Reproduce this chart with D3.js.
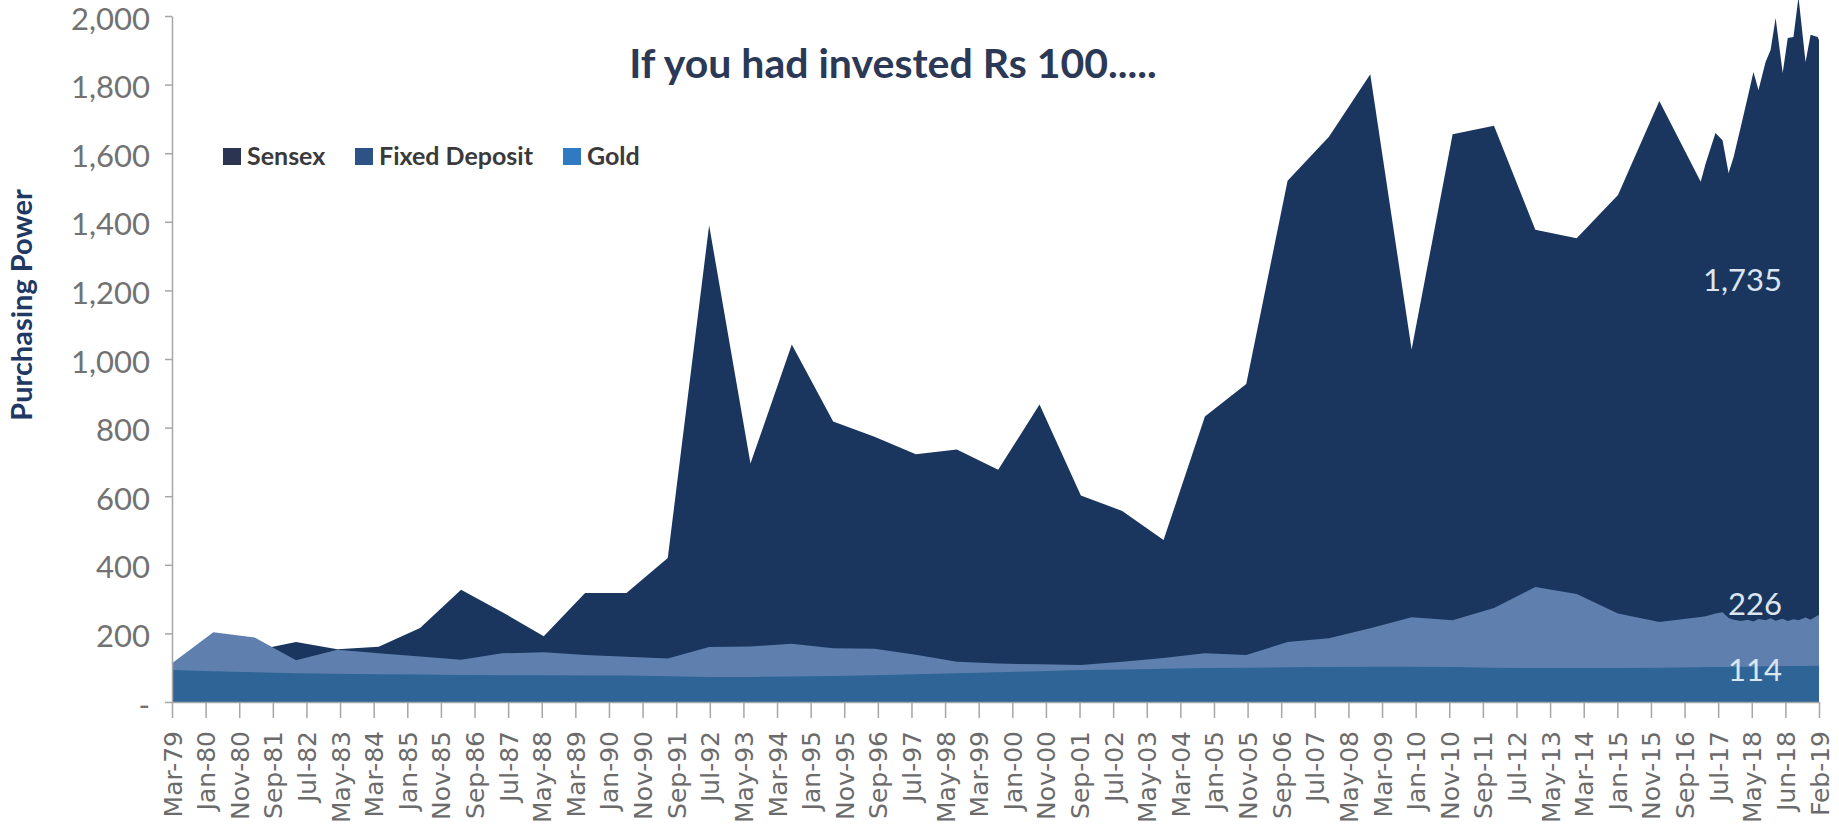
<!DOCTYPE html>
<html>
<head>
    <meta charset="UTF-8">
    <title>If you had invested Rs 100</title>
    <script src="https://cdnjs.cloudflare.com/ajax/libs/d3/7.8.5/d3.min.js"></script>
    <style>
        body { margin: 0; background: #ffffff; }
        svg { display: block; }
        .y-axis text { font-family: Lato, sans-serif; font-size: 31px; fill: #727272; }
        .x-axis text { font-family: "DejaVu Sans", sans-serif; font-size: 25px; fill: #6b6b6b; }
        .axis path, .axis line { stroke: #a6a6a6; stroke-width: 1.5; }
        .legend text { font-family: Lato, sans-serif; font-weight: bold; font-size: 25px; fill: #3a3a3a; }
        .end-label { font-family: Lato, sans-serif; font-size: 31px; fill: #dce6f1; text-anchor: end; }
    </style>
</head>
<body>
<svg id="chart" width="1839" height="826"></svg>
<script>
    // tick labels on the category axis
    const categories = ["Mar-79", "Jan-80", "Nov-80", "Sep-81", "Jul-82", "May-83", "Mar-84", "Jan-85", "Nov-85", "Sep-86",
        "Jul-87", "May-88", "Mar-89", "Jan-90", "Nov-90", "Sep-91", "Jul-92", "May-93", "Mar-94", "Jan-95",
        "Nov-95", "Sep-96", "Jul-97", "May-98", "Mar-99", "Jan-00", "Nov-00", "Sep-01", "Jul-02", "May-03",
        "Mar-04", "Jan-05", "Nov-05", "Sep-06", "Jul-07", "May-08", "Mar-09", "Jan-10", "Nov-10", "Sep-11",
        "Jul-12", "May-13", "Mar-14", "Jan-15", "Nov-15", "Sep-16", "Jul-17", "May-18", "Jun-18", "Feb-19"];

    // where each observation sits along that axis (in category units)
    const period = [0, 1.23, 2.46, 3.69, 4.92, 6.15, 7.38, 8.6, 9.83, 11.06,
        12.29, 13.52, 14.75, 15.98, 17.21, 18.44, 19.67, 20.9, 22.13, 23.35,
        24.58, 25.81, 27.04, 28.27, 29.5, 30.73, 31.96, 33.19, 34.42, 35.65,
        36.88, 38.1, 39.33, 40.56, 41.79, 43.02, 44.25, 45.48,
        45.63, 45.92, 46.13, 46.31, 46.46, 46.67, 46.88, 47.05, 47.2, 47.41,
        47.56, 47.71, 47.92, 48.07, 48.24, 48.39, 48.6, 48.75, 48.96, 49];

    const sensex = [100, 125, 150, 175, 154, 161, 216, 327, 262, 192,
        318, 318, 420, 1390, 695, 1042, 818, 773, 722, 736,
        677, 867, 602, 557, 472, 832, 927, 1520, 1648, 1830,
        1028, 1655, 1680, 1377, 1352, 1478, 1752, 1517,
        1571, 1659, 1638, 1542, 1589, 1676, 1764, 1837, 1784, 1866,
        1901, 1994, 1834, 1936, 1939, 2055, 1866, 1945, 1939, 1930];

    const gold = [113, 203, 188, 122, 152, 142, 133, 123, 142, 145,
        137, 132, 127, 160, 162, 170, 157, 155, 138, 117,
        112, 110, 108, 117, 128, 142, 137, 175, 186, 215,
        247, 238, 274, 335, 315, 258, 233, 248,
        250, 258, 262, 245, 240, 236, 240, 235, 242, 238,
        244, 237, 243, 236, 241, 238, 246, 240, 252, 254];

    const fixedDeposit = [93, 90, 87, 84, 82, 81, 80, 79, 78, 78,
        77, 77, 75, 73, 73, 74, 76, 78, 81, 84,
        87, 90, 93, 95, 97, 99, 100, 101, 102, 103,
        103, 102, 100, 99, 99, 99, 100, 101,
        102, 102, 102, 102, 103, 103, 103, 103, 104, 104,
        104, 104, 105, 105, 105, 105, 105, 106, 106, 106];

    const yTicks = [0, 200, 400, 600, 800, 1000, 1200, 1400, 1600, 1800, 2000];
    const seriesNames = ["Sensex", "Fixed Deposit", "Gold"];
    const endLabels = ["1,735", "226", "114"];

    const svg = d3.select("#chart");
    svg.append("rect").attr("width", 1839).attr("height", 826).attr("fill", "#ffffff");

    const x = d3.scaleLinear().domain([0, categories.length - 1]).range([172, 1819]);
    const y = d3.scaleLinear().domain([0, 2000]).range([702, 16]);

    function drawArea(values, colour) {
        const area = d3.area()
            .x((d, i) => x(period[i]))
            .y0(y(0))
            .y1(d => y(d));
        svg.append("path")
            .datum(values)
            .attr("d", area)
            .attr("fill", colour);
    }

    // sensex at the back, fixed deposit in front
    drawArea(sensex, "#1a365e");
    drawArea(gold, "#5f80af");
    drawArea(fixedDeposit, "#2e6496");

    // y axis
    svg.append("g")
        .attr("class", "axis y-axis")
        .attr("transform", "translate(" + x(0) + ",0)")
        .call(d3.axisLeft(y)
            .tickValues(yTicks)
            .tickSize(7)
            .tickSizeOuter(0)
            .tickPadding(15)
            .tickFormat(v => v === 0 ? "-" : d3.format(",")(v)))
        .selectAll("text")
        .attr("dy", "0.42em");

    // x axis
    svg.append("g")
        .attr("class", "axis x-axis")
        .attr("transform", "translate(0," + y(0) + ")")
        .call(d3.axisBottom(x)
            .tickValues(d3.range(categories.length))
            .tickSize(16)
            .tickSizeOuter(0)
            .tickFormat(i => categories[i]))
        .selectAll("text")
        .attr("transform", "rotate(-90)")
        .attr("text-anchor", "end")
        .attr("x", -29)
        .attr("y", 0)
        .attr("dy", "0.36em");

    // axis title
    svg.append("text")
        .attr("transform", "translate(32,305) rotate(-90)")
        .attr("text-anchor", "middle")
        .style("font-family", "Lato, sans-serif")
        .style("font-weight", "bold")
        .style("font-size", "29px")
        .style("fill", "#1f3864")
        .text("Purchasing Power");

    // title
    svg.append("text")
        .attr("x", 893)
        .attr("y", 78)
        .attr("text-anchor", "middle")
        .style("font-family", "Lato, sans-serif")
        .style("font-weight", "bold")
        .style("font-size", "41px")
        .style("fill", "#2b3856")
        .text("If you had invested Rs 100.....");

    // legend
    const legendColours = ["#2b3551", "#2c5286", "#2f7ac0"];
    const legendX = [223, 355, 563];
    const legend = svg.append("g").attr("class", "legend");
    seriesNames.forEach((name, i) => {
        legend.append("rect")
            .attr("x", legendX[i]).attr("y", 148)
            .attr("width", 18).attr("height", 17)
            .attr("fill", legendColours[i]);
        legend.append("text")
            .attr("x", legendX[i] + 24).attr("y", 165)
            .text(name);
    });

    // values written inside the areas
    const labelAt = [1230, 285, 93];
    endLabels.forEach((t, i) => {
        svg.append("text")
            .attr("class", "end-label")
            .attr("x", 1782)
            .attr("y", y(labelAt[i]))
            .attr("dy", "0.36em")
            .text(t);
    });
</script>
</body>
</html>
